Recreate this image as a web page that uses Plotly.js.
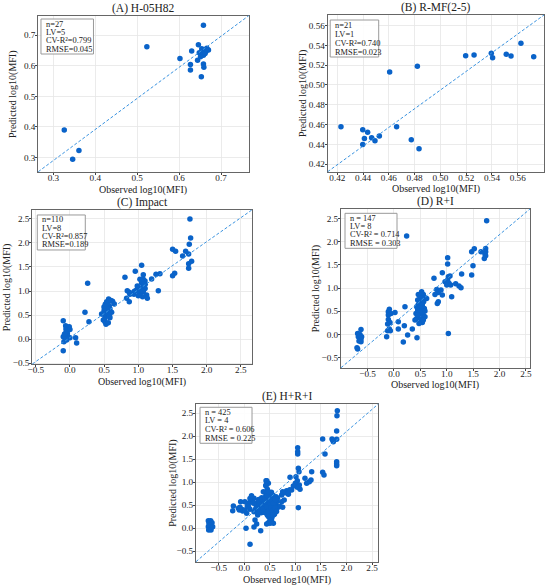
<!DOCTYPE html>
<html><head><meta charset="utf-8">
<script src="https://cdn.plot.ly/plotly-3.0.1.min.js"></script>
<style>body{margin:0;background:#fff}#chart{width:550px;height:586px}</style>
</head><body><div id="chart"></div>
<script>
// ---- Panel titles and statistics text ----
const panelTitles = ["(A) H-05H82", "(B) R-MF(2-5)", "(C) Impact", "(D) R+I", "(E) H+R+I"];
const statsA = ["n=27", "LV=5", "CV-R²=0.799", "RMSE=0.045"];
const statsB = ["n=21", "LV=1", "CV-R²=0.740", "RMSE=0.023"];
const statsC = ["n=110", "LV=8", "CV-R²=0.857", "RMSE=0.189"];
const statsD = ["n = 147", "LV= 8", "CV-R² = 0.714", "RMSE = 0.303"];
const statsE = ["n = 425", "LV = 4", "CV-R² = 0.606", "RMSE = 0.225"];
const xLabel = "Observed log10(MFI)";
const yLabel = "Predicted log10(MFI)";

// ---- Tick values ----
const ticksA = [0.3, 0.4, 0.5, 0.6, 0.7];
const ticksB = [0.42, 0.44, 0.46, 0.48, 0.50, 0.52, 0.54, 0.56];
const ticksWide = [-0.5, 0.0, 0.5, 1.0, 1.5, 2.0, 2.5];

// ---- Panel A ----
const aObs  = [0.658,0.523,0.326,0.346,0.361,0.646,0.630,0.654,0.662,0.666,0.670,0.659,0.648,0.658,0.656,0.602,0.644,0.627,0.658,0.659,0.627,0.653,0.664,0.667,0.662,0.655,0.651];
const aPred = [0.732,0.662,0.390,0.295,0.323,0.668,0.648,0.655,0.651,0.657,0.651,0.646,0.642,0.634,0.642,0.623,0.618,0.604,0.605,0.595,0.586,0.564,0.646,0.653,0.640,0.651,0.629];

// ---- Panel B ----
const bObs  = [0.4228,0.4397,0.4435,0.4410,0.4466,0.4492,0.4526,0.4397,0.4606,0.4660,0.4774,0.4821,0.4834,0.5196,0.5261,0.5395,0.5405,0.5511,0.5548,0.5625,0.5724];
const bPred = [0.4578,0.4548,0.4521,0.4460,0.4467,0.4436,0.4484,0.4399,0.5131,0.4578,0.4447,0.5189,0.4355,0.5296,0.5303,0.5320,0.5276,0.5310,0.5293,0.5421,0.5286];

// ---- Panel C ----
const cObs  = [1.756,1.766,1.746,1.737,1.737,1.737,1.693,1.649,1.502,1.546,1.532,1.502,1.317,1.259,1.195,1.293,1.049,0.956,1.073,0.805,1.024,1.073,1.098,1.049,1.102,1.000,1.073,1.024,0.976,0.937,0.937,1.073,1.122,1.063,1.132,0.868,0.839,0.878,0.829,0.868,0.985,0.259,0.220,0.278,0.463,0.488,0.512,0.527,0.561,0.566,0.537,0.624,0.649,0.517,0.576,0.527,0.585,0.512,0.576,0.537,0.585,0.512,0.610,0.546,0.498,-0.098,-0.063,-0.024,-0.049,-0.073,-0.034,-0.073,0.000,-0.049,-0.088,-0.098,0.083,0.098,-0.059,-0.098,-0.039,-0.010,0.50,0.55,0.52,0.58,1.05,1.08,1.02,0.95,1.10,-0.05,-0.08,0.00,0.53,0.57,1.00,1.78,0.60,1.06,0.48,-0.06];
const cPred = [2.500,2.104,1.972,1.771,1.569,1.472,1.826,1.729,1.868,1.826,1.368,1.319,1.361,1.347,1.250,1.007,1.535,1.410,1.340,1.285,1.243,1.243,1.208,1.160,1.139,1.069,1.090,1.042,1.021,0.986,0.931,0.986,0.917,0.882,0.847,0.972,1.007,0.931,0.847,0.778,1.104,1.160,0.556,0.361,0.521,0.396,0.361,0.306,0.340,0.833,0.778,0.785,0.729,0.722,0.694,0.639,0.625,0.583,0.535,0.500,0.444,0.431,0.556,0.674,0.667,0.382,0.278,0.243,0.174,0.111,0.063,0.028,0.028,-0.021,-0.056,-0.243,0.028,-0.083,0.208,0.049,0.118,0.257,0.60,0.75,0.68,0.48,1.20,1.15,0.95,1.00,1.05,0.15,0.10,0.20,0.55,0.62,0.90,1.62,0.80,1.00,0.52,0.00];

// ---- Panel D ----
const dObs  = [1.756,0.240,1.472,1.522,1.649,1.737,1.737,1.725,1.737,1.712,1.497,1.472,1.017,1.017,0.916,0.758,1.030,1.061,1.017,0.967,1.042,1.000,1.074,1.282,1.169,1.232,1.270,1.093,0.809,0.840,0.777,0.916,0.891,0.840,0.821,1.030,
  0.461,0.512,0.556,0.493,0.537,0.587,0.449,0.512,0.562,0.461,0.537,0.430,0.493,0.575,0.449,0.524,0.587,0.417,0.480,0.556,0.430,0.512,0.537,0.398,0.474,0.619,0.524,0.493,0.449,0.587,0.556,
  0.208,0.347,0.196,0.259,0.436,0.177,-0.139,
  -0.088,-0.107,-0.057,-0.107,-0.076,-0.120,-0.088,-0.120,-0.069,0.019,0.082,0.082,-0.107,
  -0.625,-0.689,-0.644,-0.676,-0.625,-0.663,-0.625,-0.701,-0.689,-0.613];
const dPred = [2.453,2.122,1.784,1.849,1.784,1.856,1.784,1.727,1.698,1.640,1.482,1.281,1.655,1.518,1.331,1.209,1.245,1.259,1.173,1.137,1.101,1.065,1.065,1.302,1.094,1.043,1.007,0.813,0.971,0.906,0.863,0.849,0.957,0.705,0.669,0.022,
  0.863,0.863,0.863,0.791,0.791,0.791,0.741,0.705,0.705,0.647,0.633,0.597,0.576,0.561,0.525,0.504,0.504,0.453,0.432,0.417,0.345,0.331,0.259,0.309,0.237,0.777,0.921,0.489,0.417,0.381,0.309,
  0.597,0.115,0.187,-0.014,-0.072,-0.165,-0.050,
  0.540,0.489,0.453,0.324,0.259,0.223,0.115,0.079,0.079,0.475,0.273,0.115,0.417,
  0.108,0.022,0.000,-0.050,-0.101,-0.144,-0.158,-0.288,-0.317,-0.050];

// ---- Panel E ----
const eObs  = [1.820,1.813,1.807,1.807,1.742,1.729,1.716,1.533,1.579,1.807,1.807,1.807,1.533,1.559,1.318,1.044,1.044,1.044,1.057,1.070,0.894,1.011,1.187,1.272,1.305,1.220,1.037,0.998,1.076,1.037,1.090,1.057,0.959,0.828,0.796,0.861,0.731,0.750,0.926,
  0.424,0.470,0.424,0.450,0.372,0.502,
  -0.215,-0.228,-0.117,-0.098,-0.085,-0.052,-0.033,-0.072,0.013,0.059,0.078,0.124,0.157,0.189,0.111,0.046,0.189,0.241,0.228,0.274,0.261,0.209,0.241,0.033,0.189,0.320,0.111,
  0.450,0.489,0.535,0.470,0.502,0.535,0.568,0.437,0.568,0.522,
  -0.705,-0.659,-0.692,-0.633,-0.705,-0.672,-0.640,-0.698,-0.653,-0.685,-0.620,
  0.31,0.33,0.35,0.36,0.38,0.39,0.40,0.41,0.42,0.43,0.44,0.45,0.46,0.47,0.48,0.49,0.50,0.51,0.52,0.53,0.54,0.55,0.56,0.57,0.58,0.59,0.60,0.61,0.62,0.63,0.64,0.66,0.27,0.29,0.25,0.34,0.37,0.40,0.44,0.47,0.50,0.52,0.55,0.58,0.60,0.48,0.43,0.36,0.32,0.28,0.45,0.53,0.70,0.75,0.65,0.22,0.24,0.42,0.56,0.62,
  0.28,0.30,0.33,0.35,0.38,0.40,0.43,0.46,0.49,0.51,0.54,0.57,0.59,0.62,0.29,0.32,0.34,0.37,0.39,0.41,0.44,0.46,0.48,0.50,0.52,0.53,0.55,0.57,0.60,0.61,0.63,0.26,0.45,0.47,0.42,0.44,0.47,0.50,0.52,0.73,0.78,0.86,0.89,0.18,0.11,0.14,0.01,0.08,0.59,0.56];
const ePred = [2.551,2.442,2.109,1.928,1.877,1.913,1.935,1.935,1.609,1.442,1.391,1.355,1.210,1.152,1.225,1.746,1.659,1.609,1.297,1.225,1.101,1.116,1.080,1.007,1.043,0.971,1.029,0.971,0.935,0.884,0.841,0.442,0.913,0.812,0.768,0.732,0.717,0.790,0.826,
  1.029,0.971,0.913,0.841,0.790,0.754,
  0.478,0.377,0.428,0.391,0.449,0.406,0.370,0.572,0.391,0.478,0.536,0.572,0.623,0.645,0.406,0.319,0.355,0.478,0.428,0.391,0.283,0.174,0.087,-0.007,0.022,-0.058,-0.355,
  0.283,0.246,0.210,0.116,0.101,0.130,0.101,0.087,0.283,0.174,
  0.159,0.159,0.101,0.116,0.029,-0.007,0.014,-0.043,-0.043,0.058,0.029,
  0.45,0.52,0.40,0.58,0.47,0.63,0.36,0.53,0.70,0.44,0.60,0.39,0.66,0.50,0.56,0.74,0.43,0.62,0.37,0.69,0.49,0.57,0.41,0.65,0.52,0.46,0.60,0.39,0.55,0.48,0.58,0.45,0.50,0.41,0.55,0.66,0.54,0.45,0.52,0.42,0.68,0.53,0.64,0.40,0.50,0.35,0.62,0.48,0.60,0.62,0.75,0.78,0.47,0.45,0.65,0.40,0.47,0.38,0.71,0.68,
  0.35,0.57,0.33,0.62,0.34,0.58,0.32,0.58,0.30,0.48,0.33,0.45,0.56,0.42,0.47,0.40,0.50,0.42,0.52,0.64,0.46,0.36,0.62,0.55,0.44,0.60,0.38,0.54,0.44,0.62,0.36,0.42,0.70,0.79,0.93,1.03,0.25,0.17,0.12,0.57,0.61,0.75,0.83,0.54,0.64,0.70,0.57,0.46,0.30,0.28];

const FONT = "Liberation Serif, Times New Roman, serif";
const DOT = "#0a63c9";
const LINE = "#3a93e0";
const W = 550, H = 586;

const obsSets  = [aObs, bObs, cObs, dObs, eObs];
const predSets = [aPred, bPred, cPred, dPred, ePred];
const statSets = [statsA, statsB, statsC, statsD, statsE];

// layout geometry (domains, ranges, title offsets, stats-box placement in px)
const geo = [
  {xd:[0.0696,0.4522], yd:[0.7070,0.9732], xr:[0.264,0.766], yr:[0.254,0.763], tv:ticksA, fmt:".1f", xt:18, yt:26, box:[2.7,3.3,52.5,35]},
  {xd:[0.5958,0.9891], yd:[0.7070,0.9744], xr:[0.4125,0.5804], yr:[0.4123,0.5708], tv:ticksB, fmt:".2f", xt:17.5, yt:24, box:[2.5,5,48.5,37]},
  {xd:[0.0587,0.4587], yd:[0.3788,0.6422], xr:[-0.551,2.668], yr:[-0.521,2.694], tv:ticksWide, fmt:".1f", xt:17.5, yt:25, box:[5,5.3,48,35]},
  {xd:[0.6200,0.9636], yd:[0.3725,0.6433], xr:[-1.004,2.577], yr:[-0.719,2.705], tv:ticksWide, fmt:".1f", xt:17.5, yt:25, box:[4,4.3,52,35]},
  {xd:[0.3564,0.6878], yd:[0.0415,0.3106], xr:[-0.946,2.622], yr:[-0.732,2.696], tv:ticksWide, fmt:".1f", xt:18, yt:23, box:[4,3.3,52,36]}
];

const traces = [];
const layout = {
  width:W, height:H, margin:{l:0,r:0,t:0,b:0},
  paper_bgcolor:"#fff", plot_bgcolor:"#fff",
  showlegend:false, font:{family:FONT, color:"#222", size:9.5},
  shapes:[], annotations:[]
};

geo.forEach((g, i) => {
  const n = i === 0 ? "" : String(i + 1);
  const xr = "x"+n+" domain", yr = "y"+n+" domain";
  const pw = (g.xd[1]-g.xd[0])*W, ph = (g.yd[1]-g.yd[0])*H;
  traces.push({
    type:"scatter", mode:"markers", x:obsSets[i], y:predSets[i],
    xaxis:"x"+n, yaxis:"y"+n,
    marker:{color:DOT, size:5.5, line:{width:0}}, hoverinfo:"x+y"
  });
  const axCommon = {
    showline:true, mirror:true, linecolor:"#666", linewidth:1,
    showgrid:true, gridcolor:"#e6e6e6", gridwidth:0.8,
    zeroline:false, ticks:"outside", ticklen:2, tickcolor:"#444",
    ticklabelstandoff:-5,
    tickfont:{family:FONT, size:9.2, color:"#222"},
    tickmode:"array", tickvals:g.tv, tickformat:g.fmt
  };
  layout["xaxis"+n] = Object.assign({}, axCommon, {domain:g.xd, range:g.xr, anchor:"y"+n});
  layout["yaxis"+n] = Object.assign({}, axCommon, {domain:g.yd, range:g.yr, anchor:"x"+n, ticklabelstandoff:-2});
  // diagonal reference line across the axes (corner to corner)
  layout.shapes.push({
    type:"line", xref:xr, yref:yr, x0:0, y0:0, x1:1, y1:1, layer:"above",
    line:{color:LINE, width:1, dash:"3px,2px"}
  });
  // panel title
  layout.annotations.push({
    xref:xr, yref:yr, x:0.5, y:1, yshift:7.5,
    xanchor:"center", yanchor:"middle", showarrow:false,
    text:panelTitles[i], font:{family:FONT, size:11.5, color:"#222"}
  });
  // axis titles
  layout.annotations.push({
    xref:xr, yref:yr, x:0.5, y:0, yshift:-g.xt,
    xanchor:"center", yanchor:"middle", showarrow:false,
    text:xLabel, font:{family:FONT, size:10, color:"#222"}
  });
  layout.annotations.push({
    xref:xr, yref:yr, x:0, y:0.5, xshift:-g.yt,
    xanchor:"center", yanchor:"middle", showarrow:false, textangle:-90,
    text:yLabel, font:{family:FONT, size:10, color:"#222"}
  });
  // statistics box: frame + one text line per entry
  const [bx, by, bw, bh] = g.box;
  layout.shapes.push({
    type:"rect", xref:xr, yref:yr, layer:"above",
    x0:bx/pw, x1:(bx+bw)/pw, y0:1-(by+bh)/ph, y1:1-by/ph,
    fillcolor:"rgba(255,255,255,0.9)", line:{color:"#9a9a9a", width:1}
  });
  const pitch = (bh - 10) / 3;
  statSets[i].forEach((t, k) => {
    layout.annotations.push({
      xref:xr, yref:yr, x:(bx+3)/pw, y:1-(by+5+k*pitch)/ph,
      xanchor:"left", yanchor:"middle", showarrow:false,
      text:t, font:{family:FONT, size:8.4, color:"#222"}
    });
  });
});

Plotly.newPlot("chart", traces, layout, {staticPlot:true, displayModeBar:false});
</script>
</body></html>
